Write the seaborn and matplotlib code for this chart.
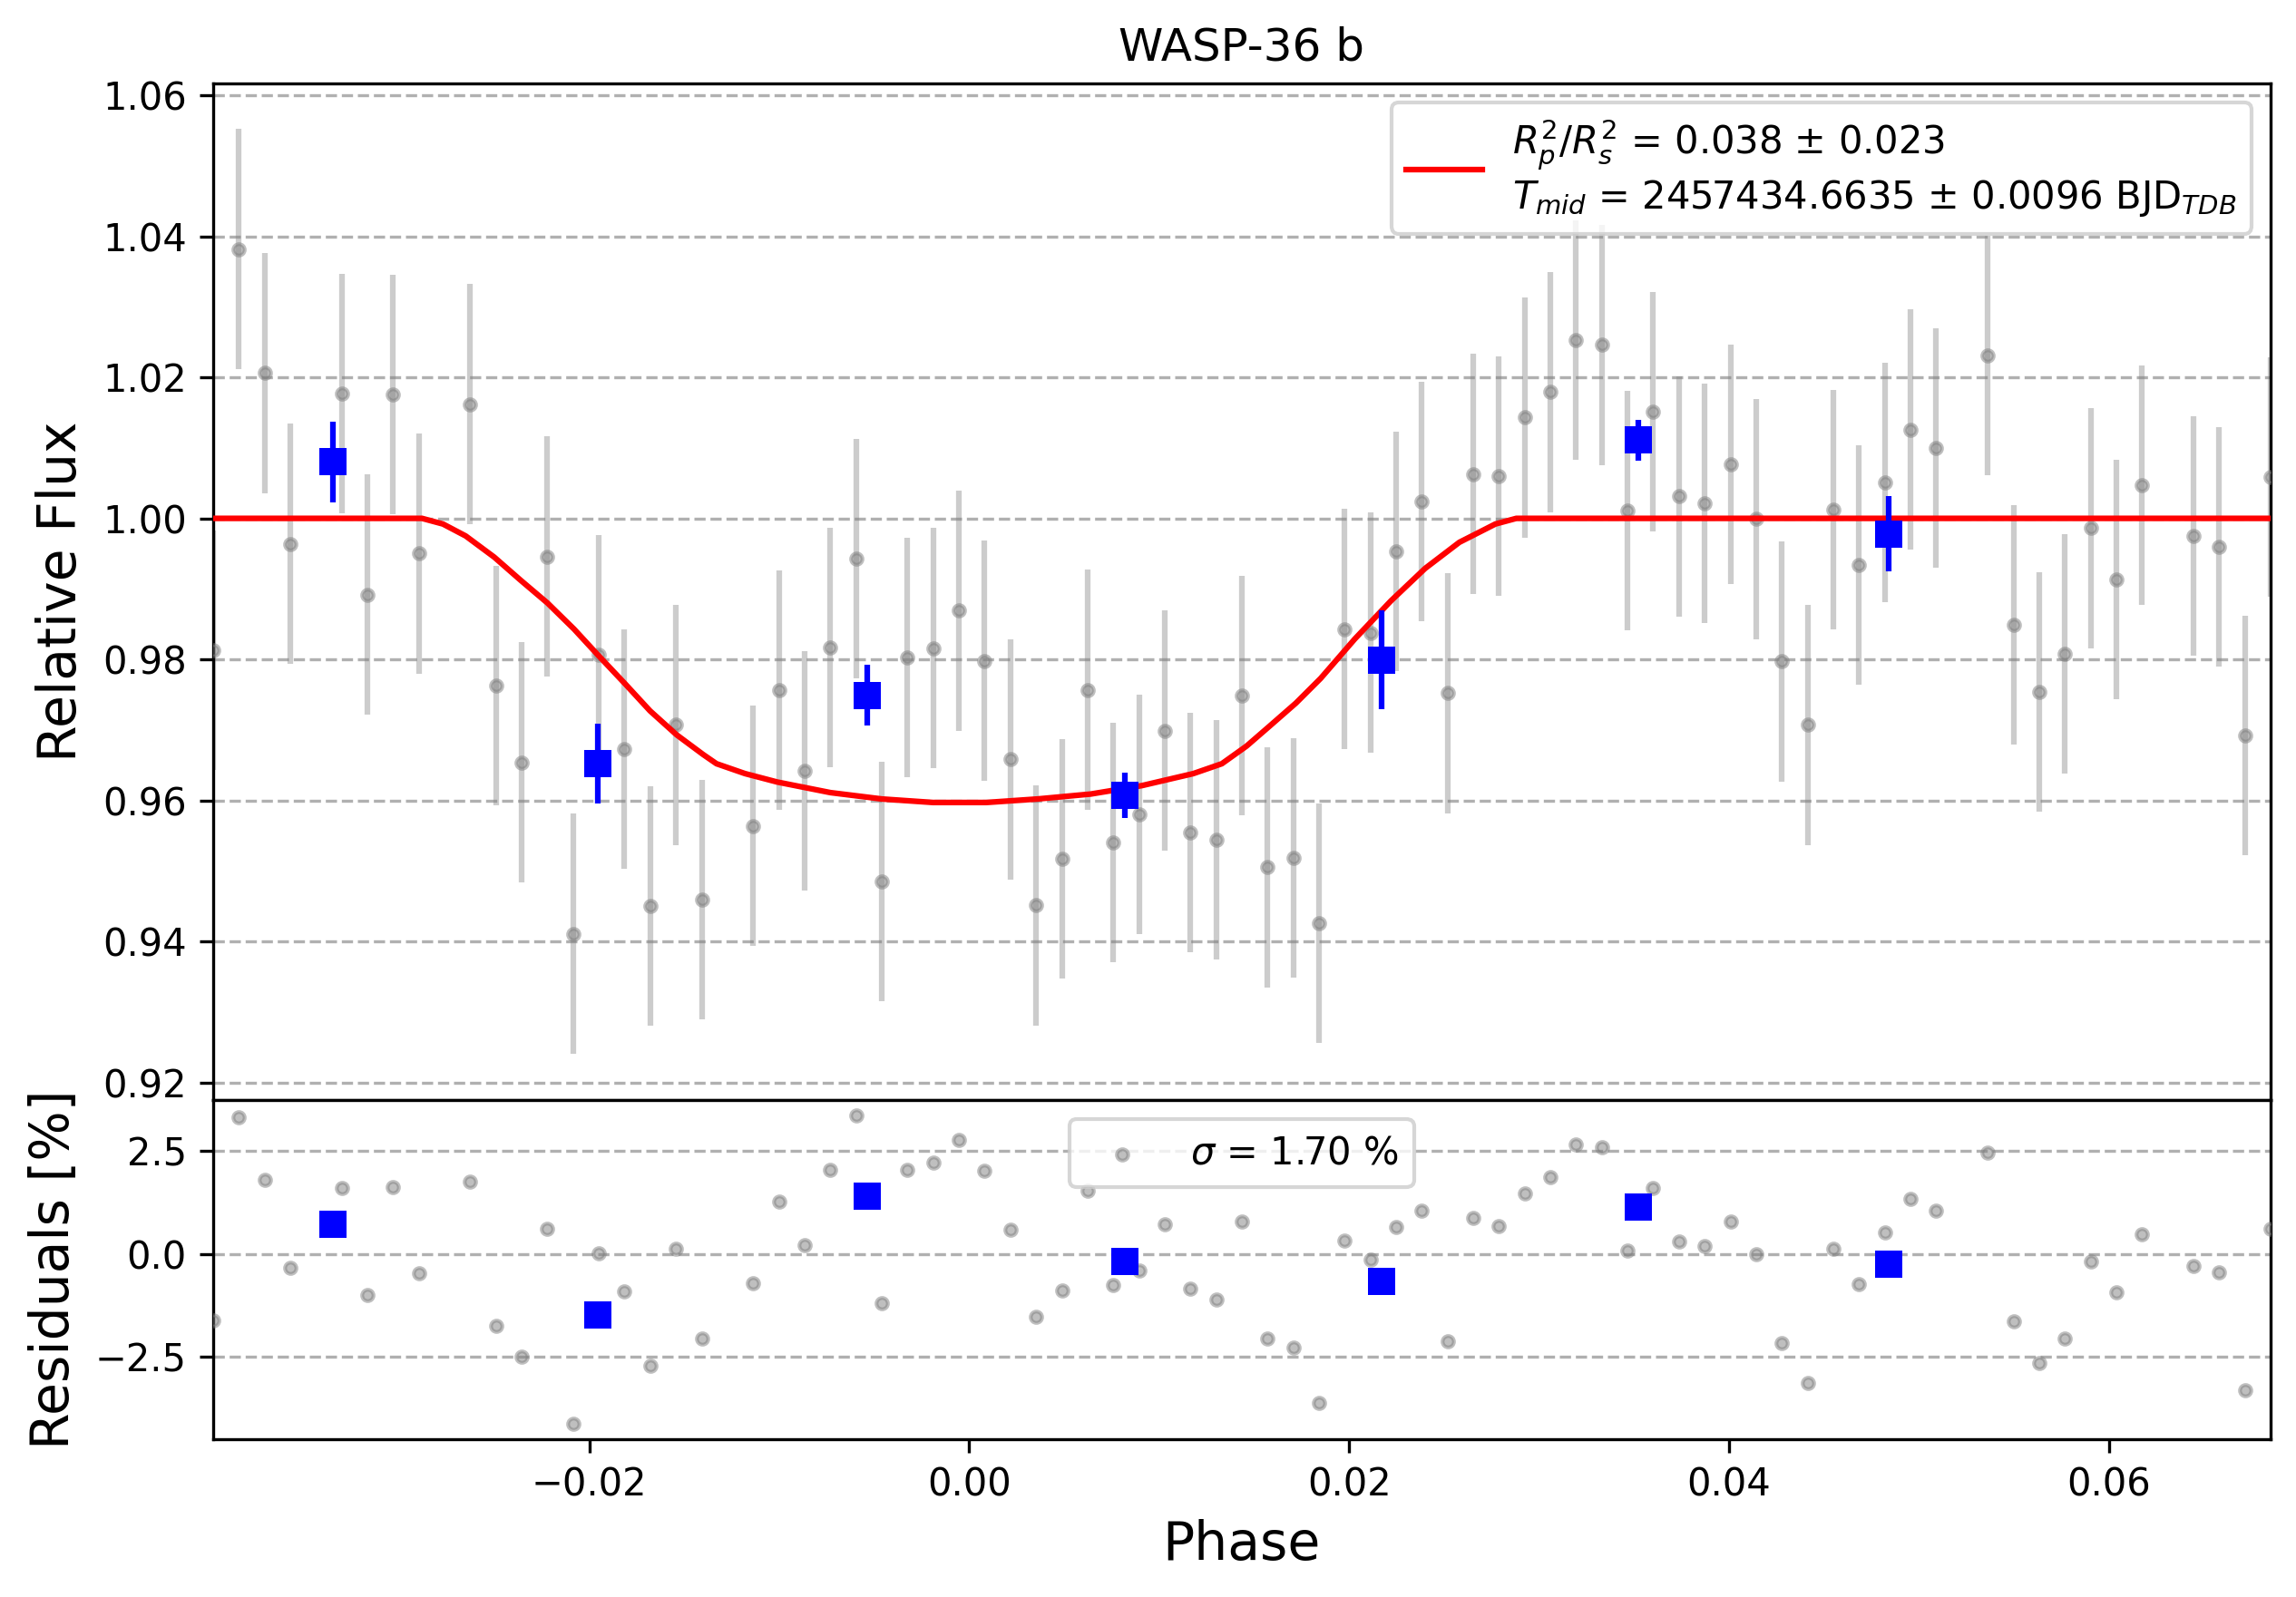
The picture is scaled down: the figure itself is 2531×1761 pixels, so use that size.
import numpy as np
import pandas as pd
import seaborn as sns
import matplotlib.pyplot as plt

# unbinned light curve (phase, detrended relative flux, residuals in %)
phase = [-0.03980, -0.03845, -0.03709, -0.03574, -0.03303, -0.03168, -0.03032, -0.02897,
         -0.02626, -0.02491, -0.02355, -0.02220, -0.02085, -0.01949, -0.01814, -0.01679,
         -0.01543, -0.01408, -0.01137, -0.01002, -0.00866, -0.00731, -0.00596, -0.00460,
         -0.00325, -0.00189, -0.00054, 0.00081, 0.00217, 0.00352, 0.00488, 0.00623,
         0.00758, 0.00894, 0.01029, 0.01164, 0.01300, 0.01435, 0.01571, 0.01706,
         0.01841, 0.01977, 0.02112, 0.02247, 0.02383, 0.02518, 0.02654, 0.02789,
         0.02924, 0.03060, 0.03195, 0.03331, 0.03466, 0.03601, 0.03737, 0.03872,
         0.04007, 0.04143, 0.04278, 0.04414, 0.04549, 0.04684, 0.04820, 0.04955,
         0.05090, 0.05361, 0.05497, 0.05632, 0.05767, 0.05903, 0.06038, 0.06173,
         0.06444, 0.06580, 0.06715, 0.06850]
flux = [0.9813, 1.0382, 1.0206, 0.9964, 1.0177, 0.9892, 1.0176, 0.9950,
        1.0162, 0.9763, 0.9654, 0.9946, 0.9411, 0.9806, 0.9673, 0.9450,
        0.9707, 0.9459, 0.9564, 0.9756, 0.9642, 0.9817, 0.9943, 0.9485,
        0.9803, 0.9816, 0.9869, 0.9798, 0.9658, 0.9451, 0.9517, 0.9757,
        0.9540, 0.9580, 0.9699, 0.9554, 0.9544, 0.9749, 0.9505, 0.9518,
        0.9426, 0.9843, 0.9838, 0.9953, 1.0024, 0.9752, 1.0063, 1.0060,
        1.0143, 1.0179, 1.0253, 1.0246, 1.0011, 1.0151, 1.0031, 1.0021,
        1.0077, 0.9999, 0.9797, 0.9707, 1.0012, 0.9934, 1.0051, 1.0126,
        1.0100, 1.0231, 0.9849, 0.9754, 0.9808, 0.9986, 0.9913, 1.0047,
        0.9975, 0.9960, 0.9692, 1.0059]
flux_err = 0.017
resid = [-1.62, 3.32, 1.79, -0.33, 1.60, -1.00, 1.62, -0.46,
         1.75, -1.75, -2.50, 0.61, -4.13, 0.01, -0.91, -2.72,
         0.12, -2.05, -0.71, 1.28, 0.22, 2.05, 3.36, -1.19,
         2.05, 2.21, 2.77, 2.03, 0.60, -1.52, -0.88, 1.54,
         -0.75, -0.41, 0.73, -0.85, -1.10, 0.79, -2.05, -2.27,
         -3.62, 0.32, -0.13, 0.65, 1.05, -2.11, 0.88, 0.68,
         1.47, 1.87, 2.65, 2.59, 0.09, 1.60, 0.31, 0.20,
         0.79, -0.01, -2.17, -3.14, 0.13, -0.74, 0.53, 1.33,
         1.05, 2.46, -1.63, -2.65, -2.05, -0.18, -0.93, 0.49,
         -0.29, -0.44, -3.31, 0.61]

# binned points
bin_phase = [-0.03351, -0.01957, -0.00537, 0.00819, 0.02170, 0.03524, 0.04842]
bin_flux = [1.0080, 0.9652, 0.9749, 0.9607, 0.9799, 1.0111, 0.9978]
bin_err = [0.0057, 0.0057, 0.0043, 0.0032, 0.0070, 0.0029, 0.0053]
bin_resid = [0.73, -1.48, 1.41, -0.18, -0.66, 1.15, -0.24]

# best-fit transit model
model_phase = [-0.0398, -0.0288, -0.0277, -0.0265, -0.0250, -0.0236, -0.0222, -0.0208,
               -0.0195, -0.0181, -0.0168, -0.0154, -0.0140, -0.0133, -0.0118, -0.0101,
               -0.0073, -0.0046, -0.0019, 0.0009, 0.0036, 0.0064, 0.0091, 0.0118,
               0.0133, 0.0146, 0.0158, 0.0172, 0.0185, 0.0203, 0.0222, 0.0240,
               0.0258, 0.0277, 0.0288, 0.0685]
model_flux = [1.0000, 1.0000, 0.9992, 0.9975, 0.9945, 0.9912, 0.9880, 0.9843,
              0.9805, 0.9765, 0.9727, 0.9693, 0.9665, 0.9652, 0.9638, 0.9626,
              0.9611, 0.9602, 0.9597, 0.9597, 0.9602, 0.9609, 0.9621, 0.9638,
              0.9652, 0.9677, 0.9705, 0.9738, 0.9773, 0.9829, 0.9883, 0.9929,
              0.9966, 0.9992, 1.0000, 1.0000]

planet = "WASP-36 b"
fit_label = (r"$R_{p}^{2}/R_{s}^{2}$ = 0.038 ± 0.023" + "\n"
             + r"$T_{mid}$ = 2457434.6635 ± 0.0096 BJD$_{TDB}$")
sigma_label = r"$\sigma$ = 1.70 %"

lc = pd.DataFrame({"phase": phase, "flux": flux, "resid": resid})
bins = pd.DataFrame({"phase": bin_phase, "flux": bin_flux, "err": bin_err, "resid": bin_resid})
model = pd.DataFrame({"phase": model_phase, "flux": model_flux})

W, H, DPI = 2531, 1761, 300
fig = plt.figure(figsize=(W / DPI, H / DPI), dpi=DPI)
ax = fig.add_axes([0.0928, 0.3112, 0.8961, 0.6366])
axr = fig.add_axes([0.0928, 0.0988, 0.8961, 0.2124], sharex=ax)

# --- light curve panel
ax.errorbar(lc["phase"], lc["flux"], yerr=flux_err, fmt="none",
            ecolor="gray", alpha=0.4, elinewidth=1.5, zorder=2)
sns.scatterplot(data=lc, x="phase", y="flux", ax=ax, color="gray", alpha=0.5,
                s=9, edgecolor="gray", linewidth=1, zorder=3)
sns.lineplot(data=model, x="phase", y="flux", ax=ax, color="red", linewidth=1.5,
             label=fit_label, zorder=4, sort=False)
ax.errorbar(bins["phase"], bins["flux"], yerr=bins["err"], fmt="none",
            ecolor="blue", elinewidth=1.5, zorder=5)
sns.scatterplot(data=bins, x="phase", y="flux", ax=ax, color="blue", marker="s",
                s=49, linewidth=0, zorder=6)

ax.set_xlim(min(phase), max(phase))
ax.set_ylim(0.9175, 1.0617)
ax.set_yticks([0.92, 0.94, 0.96, 0.98, 1.00, 1.02, 1.04, 1.06])
ax.grid(True, axis="y", linestyle="--")
ax.set_title(planet)
ax.set_xlabel("")
ax.set_ylabel("Relative Flux", fontsize=14)
ax.tick_params(labelbottom=False)
ax.legend(loc="upper right")

# --- residual panel
sns.scatterplot(data=lc, x="phase", y="resid", ax=axr, color="gray", alpha=0.5,
                s=9, edgecolor="gray", linewidth=1, zorder=3, label=sigma_label)
sns.scatterplot(data=bins, x="phase", y="resid", ax=axr, color="blue", marker="s",
                s=49, linewidth=0, zorder=4)
axr.set_ylim(-4.50, 3.74)
axr.set_yticks([-2.5, 0.0, 2.5])
axr.grid(True, axis="y", linestyle="--")
axr.set_xlabel("Phase", fontsize=14)
axr.set_ylabel("Residuals [%]", fontsize=14)
axr.legend(loc="upper center")

fig.savefig("out.png", dpi=DPI)
